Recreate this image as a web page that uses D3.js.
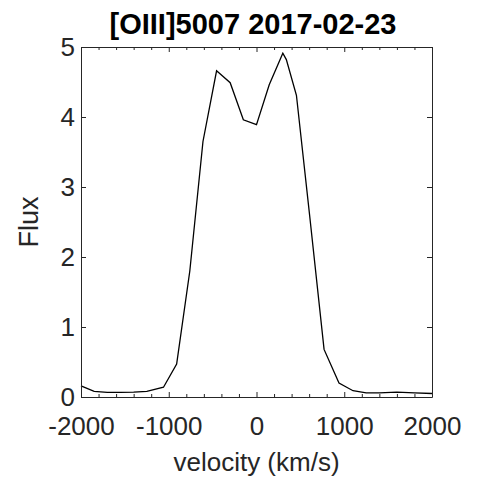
<!DOCTYPE html>
<html>
<head>
<meta charset="utf-8">
<script src="https://cdn.jsdelivr.net/npm/d3@7"></script>
<style>
  html, body { margin: 0; padding: 0; background: #fff; }
  svg { display: block; }
</style>
</head>
<body>
<svg id="chart" width="482" height="481"></svg>
<script>
// spectrum
const velocity = [-2000, -1850, -1700, -1550, -1400, -1250, -1060, -910, -760, -610,
  -455, -300, -150, 0, 145, 300, 340, 455, 605, 770, 940, 1100, 1250, 1400, 1600, 1800, 2000];
const flux = [0.16, 0.08, 0.065, 0.065, 0.07, 0.08, 0.14, 0.47, 1.8, 3.65,
  4.66, 4.49, 3.96, 3.89, 4.46, 4.91, 4.82, 4.31, 2.6, 0.68, 0.2, 0.09, 0.06, 0.06, 0.07, 0.06, 0.05];

const xTicks = [-2000, -1000, 0, 1000, 2000];
const yTicks = [0, 1, 2, 3, 4, 5];
const title = "[OIII]5007 2017-02-23";
const xLabel = "velocity (km/s)";
const yLabel = "Flux";

const AX = "#262626";
const FONT = "'Liberation Sans', Arial, Helvetica, sans-serif";
const TICK_FONT = 26;
const L = 81, R = 432, T = 47, B = 397;

const svg = d3.select("#chart");

const x = d3.scaleLinear().domain([-2000, 2000]).range([L, R]);
const y = d3.scaleLinear().domain([0, 5]).range([B, T]);

const minorX = d3.range(-2000, 2001, 200).filter(v => !xTicks.includes(v));

// curve
const pts = velocity.map((v, i) => [v, flux[i]]);
svg.append("path")
  .datum(pts)
  .attr("fill", "none")
  .attr("stroke", "#000")
  .attr("stroke-width", 1.3)
  .attr("d", d3.line().x(d => x(d[0])).y(d => y(d[1])));

function styleAxis(g) {
  g.select(".domain").attr("stroke", AX);
  g.selectAll(".tick line").attr("stroke", AX);
  g.selectAll("text").attr("fill", AX).attr("font-size", TICK_FONT).attr("font-family", FONT);
}

// bottom
svg.append("g")
  .attr("transform", `translate(0,${B})`)
  .call(d3.axisBottom(x).tickValues(xTicks).tickSize(-5).tickSizeOuter(0).tickPadding(20).tickFormat(d => String(d)))
  .call(styleAxis);
svg.append("g")
  .attr("transform", `translate(0,${B})`)
  .call(d3.axisBottom(x).tickValues(minorX).tickSize(-3).tickSizeOuter(0).tickFormat(""))
  .call(styleAxis)
  .call(g => g.select(".domain").remove());

// top
svg.append("g")
  .attr("transform", `translate(0,${T})`)
  .call(d3.axisTop(x).tickValues(xTicks).tickSize(-5).tickSizeOuter(0).tickFormat(""))
  .call(styleAxis);
svg.append("g")
  .attr("transform", `translate(0,${T})`)
  .call(d3.axisTop(x).tickValues(minorX).tickSize(-3).tickSizeOuter(0).tickFormat(""))
  .call(styleAxis)
  .call(g => g.select(".domain").remove());

// left
svg.append("g")
  .attr("transform", `translate(${L},0)`)
  .call(d3.axisLeft(y).tickValues(yTicks).tickSize(-5).tickSizeOuter(0).tickPadding(6).tickFormat(d3.format("d")))
  .call(styleAxis);

// right
svg.append("g")
  .attr("transform", `translate(${R},0)`)
  .call(d3.axisRight(y).tickValues(yTicks).tickSize(-5).tickSizeOuter(0).tickFormat(""))
  .call(styleAxis);

// labels
svg.append("text")
  .attr("x", 253).attr("y", 34)
  .attr("text-anchor", "middle")
  .attr("font-family", FONT).attr("font-size", 29).attr("font-weight", "bold")
  .attr("fill", "#000")
  .text(title);

svg.append("text")
  .attr("x", (L + R) / 2).attr("y", 471)
  .attr("text-anchor", "middle")
  .attr("font-family", FONT).attr("font-size", 26)
  .attr("fill", AX)
  .text(xLabel);

svg.append("text")
  .attr("transform", `translate(38,${(T + B) / 2}) rotate(-90)`)
  .attr("text-anchor", "middle")
  .attr("font-family", FONT).attr("font-size", 27)
  .attr("fill", AX)
  .text(yLabel);
</script>
</body>
</html>
